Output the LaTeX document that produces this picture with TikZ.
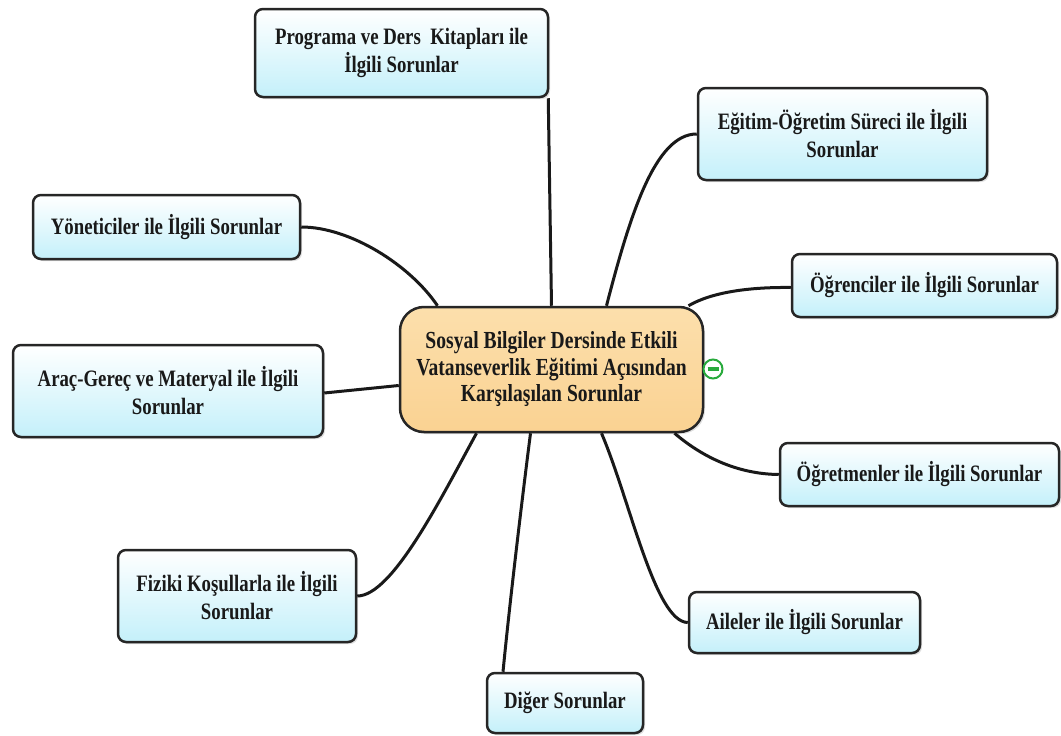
\documentclass[tikz,border=0pt]{standalone}
\usepackage{fontspec}
\setmainfont[FakeStretch=0.8]{Liberation Serif}
\usetikzlibrary{shadows}

\definecolor{kutuust}{RGB}{255,255,255}
\definecolor{kutualt}{RGB}{196,240,250}
\definecolor{merkezust}{RGB}{252,223,172}
\definecolor{merkezalt}{RGB}{250,210,146}
\definecolor{eksi}{RGB}{40,170,60}

\tikzset{
  kutu/.style={draw=black!85, line width=2.5pt, rounded corners=8pt,
    top color=kutuust, bottom color=kutualt, inner sep=0pt, align=center,
    text=black!90, font=\bfseries\fontsize{23.5}{28}\selectfont,
    drop shadow={opacity=0.25, shadow xshift=2pt, shadow yshift=-2pt}},
  merkez/.style={kutu, rounded corners=24pt, top color=merkezust, bottom color=merkezalt,
    font=\bfseries\fontsize{24.5}{26.5}\selectfont},
  dal/.style={line width=3pt, black!90},
}

\begin{document}
\begin{tikzpicture}[x=1pt,y=-1pt]
	\useasboundingbox (0,0) rectangle (1061,736);
	%
	\node (merkez) at (551.5,369.5) [merkez, minimum width=303pt, minimum height=125pt]
		{Sosyal Bilgiler Dersinde Etkili\\Vatanseverlik Eğitimi Açısından\\Karşılaşılan Sorunlar};
	\node (kucult) at (713,369) [circle, draw=eksi, line width=2pt, fill=white, minimum size=19pt, inner sep=0pt]
		{\color{eksi}\rule[-1.5pt]{11pt}{4pt}};
	%
	\node (program)   at (401.5,53)  [kutu, minimum width=293pt, minimum height=88pt] {Programa ve Ders~ Kitapları ile\\İlgili Sorunlar};
	\node (surec)     at (842.5,134) [kutu, minimum width=289pt, minimum height=92pt] {Eğitim-Öğretim Süreci ile İlgili\\Sorunlar};
	\node (yonetici)  at (166.5,227) [kutu, minimum width=267pt, minimum height=64pt] {Yöneticiler ile İlgili Sorunlar};
	\node (ogrenci)   at (924.5,285.5) [kutu, minimum width=265pt, minimum height=63pt] {Öğrenciler ile İlgili Sorunlar};
	\node (arac)      at (168,391)   [kutu, minimum width=310pt, minimum height=92pt] {Araç-Gereç ve Materyal ile İlgili\\Sorunlar};
	\node (ogretmen)  at (919.5,474.5) [kutu, minimum width=279pt, minimum height=63pt] {Öğretmenler ile İlgili Sorunlar};
	\node (fiziki)    at (237,596)   [kutu, minimum width=238pt, minimum height=92pt] {Fiziki Koşullarla ile İlgili\\Sorunlar};
	\node (aile)      at (804.5,622.5) [kutu, minimum width=231pt, minimum height=61pt] {Aileler ile İlgili Sorunlar};
	\node (diger)     at (565,703)   [kutu, minimum width=156pt, minimum height=60pt] {Diğer Sorunlar};
	%
	\draw[dal] ([xshift=-1pt]program.south east) -- (merkez.north);
	\draw[dal] (surec.west) .. controls (655,134) and (630,215) .. ([xshift=55pt]merkez.north);
	\draw[dal] (yonetici.east) .. controls (350,227) and (410,265) .. ([xshift=-114pt]merkez.north);
	\draw[dal] ([yshift=-2pt]ogrenci.west) .. controls (750,287) and (712,292) .. ([xshift=137pt]merkez.north);
	% sol
	\draw[dal] ([yshift=-2pt]arac.east) -- ([yshift=-16pt]merkez.west);
	\draw[dal] (fiziki.east) .. controls (392,596) and (440,500) .. ([xshift=-75pt]merkez.south);
	% alt
	\draw[dal] ([xshift=-62pt]diger.north) .. controls (510,600) and (522,500) .. ([xshift=-21pt]merkez.south);
	\draw[dal] (aile.west) .. controls (655,622) and (630,500) .. ([xshift=50pt]merkez.south);
	\draw[dal] (ogretmen.west) .. controls (735,474) and (700,455) .. ([xshift=123pt]merkez.south);
\end{tikzpicture}
\end{document}
